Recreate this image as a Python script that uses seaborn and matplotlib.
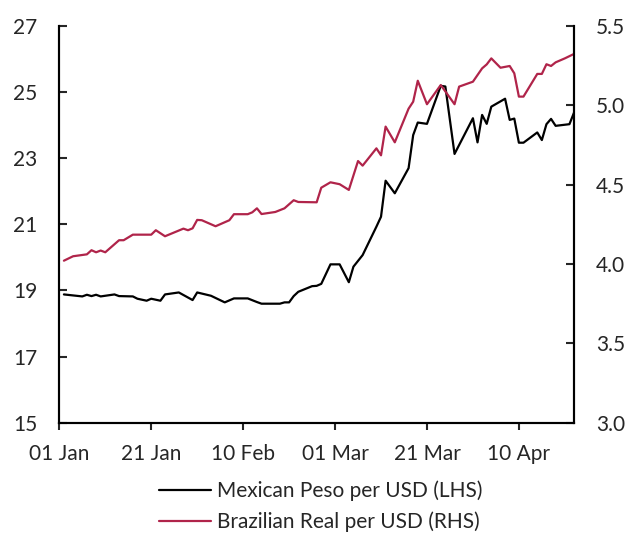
import pandas as pd
import seaborn as sns
import matplotlib.pyplot as plt
import matplotlib.dates as mdates

# Mexican peso per USD (LHS), vertices
peso_dates = [
    "2020-01-02", "2020-01-06", "2020-01-07", "2020-01-08", "2020-01-09", "2020-01-10",
    "2020-01-13", "2020-01-14", "2020-01-17", "2020-01-18", "2020-01-20", "2020-01-21",
    "2020-01-23", "2020-01-24", "2020-01-27", "2020-01-30", "2020-01-31", "2020-02-03",
    "2020-02-06", "2020-02-08", "2020-02-11", "2020-02-13", "2020-02-14", "2020-02-18",
    "2020-02-19", "2020-02-20", "2020-02-21", "2020-02-22", "2020-02-25", "2020-02-26",
    "2020-02-27", "2020-02-29", "2020-03-02", "2020-03-04", "2020-03-05", "2020-03-07",
    "2020-03-10", "2020-03-11", "2020-03-12", "2020-03-14", "2020-03-17", "2020-03-18",
    "2020-03-19", "2020-03-21", "2020-03-24", "2020-03-25", "2020-03-27", "2020-03-31",
    "2020-04-01", "2020-04-02", "2020-04-03", "2020-04-04", "2020-04-07", "2020-04-08",
    "2020-04-09", "2020-04-10", "2020-04-11", "2020-04-14", "2020-04-15", "2020-04-16",
    "2020-04-17", "2020-04-18", "2020-04-21", "2020-04-22",
]
peso_values = [
    18.88, 18.82, 18.87, 18.83, 18.87, 18.82,
    18.88, 18.83, 18.82, 18.75, 18.69, 18.75,
    18.69, 18.88, 18.94, 18.71, 18.94, 18.84,
    18.64, 18.76, 18.76, 18.65, 18.60, 18.60,
    18.64, 18.64, 18.83, 18.96, 19.13, 19.14,
    19.20, 19.79, 19.79, 19.25, 19.72, 20.07,
    20.93, 21.23, 22.32, 21.94, 22.70, 23.70,
    24.08, 24.04, 25.19, 25.17, 23.13, 24.21,
    23.48, 24.31, 24.04, 24.56, 24.80, 24.16,
    24.20, 23.47, 23.47, 23.78, 23.55, 24.03,
    24.19, 23.98, 24.03, 24.38,
]

# Brazilian real per USD (RHS)
real_dates = [
    "2020-01-02", "2020-01-04", "2020-01-07", "2020-01-08", "2020-01-09", "2020-01-10",
    "2020-01-11", "2020-01-14", "2020-01-15", "2020-01-17", "2020-01-21", "2020-01-22",
    "2020-01-24", "2020-01-28", "2020-01-29", "2020-01-30", "2020-01-31", "2020-02-01",
    "2020-02-04", "2020-02-07", "2020-02-08", "2020-02-11", "2020-02-12", "2020-02-13",
    "2020-02-14", "2020-02-17", "2020-02-19", "2020-02-21", "2020-02-22", "2020-02-26",
    "2020-02-27", "2020-02-29", "2020-03-02", "2020-03-04", "2020-03-06", "2020-03-07",
    "2020-03-10", "2020-03-11", "2020-03-12", "2020-03-14", "2020-03-17", "2020-03-18",
    "2020-03-19", "2020-03-21", "2020-03-24", "2020-03-27", "2020-03-28", "2020-03-31",
    "2020-04-02", "2020-04-03", "2020-04-04", "2020-04-06", "2020-04-08", "2020-04-09",
    "2020-04-10", "2020-04-11", "2020-04-14", "2020-04-15", "2020-04-16", "2020-04-17",
    "2020-04-18", "2020-04-20", "2020-04-22",
]
real_values = [
    4.021, 4.049, 4.061, 4.087, 4.074, 4.085,
    4.074, 4.150, 4.150, 4.185, 4.185, 4.213,
    4.175, 4.223, 4.213, 4.225, 4.278, 4.276,
    4.238, 4.276, 4.314, 4.314, 4.326, 4.351,
    4.315, 4.328, 4.351, 4.402, 4.391, 4.389,
    4.481, 4.515, 4.503, 4.467, 4.649, 4.620,
    4.729, 4.685, 4.866, 4.767, 4.979, 5.023,
    5.155, 5.007, 5.128, 5.007, 5.118, 5.149,
    5.233, 5.258, 5.296, 5.237, 5.248, 5.202,
    5.055, 5.055, 5.198, 5.198, 5.259, 5.248,
    5.271, 5.296, 5.324,
]

x_ticks = ["2020-01-01", "2020-01-21", "2020-02-10", "2020-03-01", "2020-03-21", "2020-04-10"]
left_ticks = [15, 17, 19, 21, 23, 25, 27]
right_ticks = [3.0, 3.5, 4.0, 4.5, 5.0, 5.5]

peso = pd.DataFrame({"date": pd.to_datetime(peso_dates), "value": peso_values})
real = pd.DataFrame({"date": pd.to_datetime(real_dates), "value": real_values})

sns.set_style("ticks")
plt.rcParams["font.family"] = ["Lato", "DejaVu Sans"]
red = "#B0244A"

fig = plt.figure(figsize=(6.29, 5.35), dpi=100)
ax = fig.add_axes([0.0943, 0.2099, 0.8183, 0.7415])
ax2 = ax.twinx()

sns.lineplot(data=peso, x="date", y="value", ax=ax, color="black", linewidth=1.6,
             label="Mexican Peso per USD (LHS)", legend=False)
sns.lineplot(data=real, x="date", y="value", ax=ax2, color=red, linewidth=1.6,
             label="Brazilian Real per USD (RHS)", legend=False)

ax.set_xlim(pd.Timestamp("2020-01-01"), pd.Timestamp("2020-04-22"))
ax.set_ylim(15, 27)
ax2.set_ylim(3.0, 5.5)
ax.set_xticks(pd.to_datetime(x_ticks))
ax.xaxis.set_major_formatter(mdates.DateFormatter("%d %b"))
ax.set_yticks(left_ticks)
ax2.set_yticks(right_ticks)
ax2.set_yticklabels([f"{t:.1f}" for t in right_ticks])
ax.set_xlabel("")
ax.set_ylabel("")
ax2.set_ylabel("")

for a in (ax, ax2):
    a.spines["top"].set_visible(False)
    for s in a.spines.values():
        s.set_linewidth(1.5)
        s.set_color("black")
ax.tick_params(axis="y", direction="in", length=6, width=1.5, labelsize=15, pad=16)
ax2.tick_params(axis="y", direction="in", length=6, width=1.5, labelsize=15, pad=16)
ax.tick_params(axis="x", direction="out", length=5, width=1.5, labelsize=15, pad=10)

h1, l1 = ax.get_legend_handles_labels()
h2, l2 = ax2.get_legend_handles_labels()
fig.legend(h1 + h2, l1 + l2, loc="upper left", bbox_to_anchor=(0.253, 0.102),
           frameon=False, fontsize=15, handlelength=2.5, handletextpad=0.3,
           labelspacing=0.5, borderaxespad=0, borderpad=0)

fig.savefig("out.png", dpi=100)
